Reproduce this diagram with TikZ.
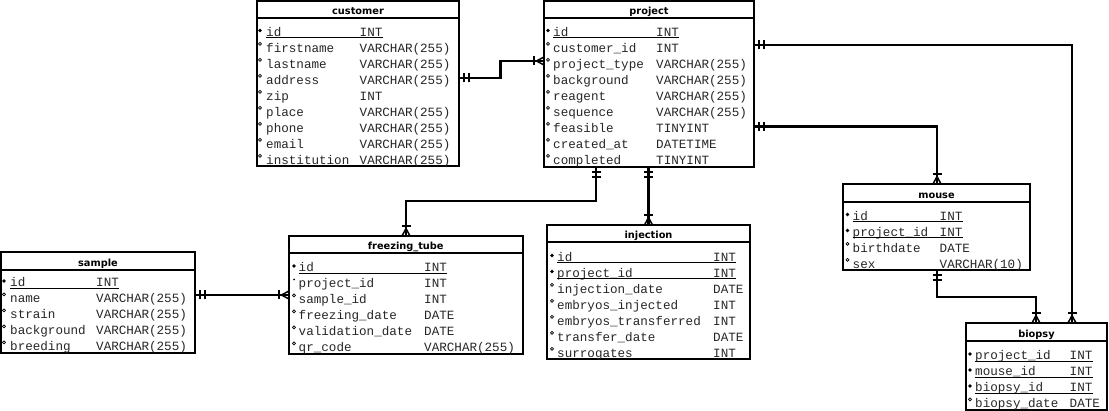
\documentclass[tikz,border=0pt]{standalone}
\usepackage{fontspec}
\setmainfont{DejaVu Sans}
\newfontfamily\monofam{Liberation Mono}
\newfontfamily\ttlfam{DejaVu Sans}
\tikzset{
 tbl/.style={draw, line width=2pt, inner sep=0pt, outer sep=0pt, anchor=north west},
 ttl/.style={font=\ttlfam\bfseries\fontsize{9.8}{10}\selectfont, anchor=base, inner sep=0pt},
 rtxt/.style={font=\monofam\fontsize{12.6}{13}\selectfont, anchor=base west, inner sep=0pt, text=black!85},
 sepline/.style={line width=2pt},
 conn/.style={line width=2.5pt},
 mk/.style={line width=2pt},
 footln/.style={line width=1.5pt},
 uline/.style={line width=0.9pt}
}
% table box: #1 name, #2 x1, #3 y1, #4 x2, #5 y2, #6 separator y, #7 title
\newcommand\tablebox[7]{%
 \node[tbl, minimum width={#4-#2}, minimum height={#5-#3}] (#1) at (#2,#3) {};
 \draw[sepline] (#2,#6) -- (#4,#6);
 \node[ttl] (#1T) at ({(#2+#4)/2},#6-3.7) {#7};}
% rows: #1 id, #2 marker x, #3 name x, #4 type x, #5 baseline, #6 name, #7 type
\newcommand\pkrow[7]{%
 \node[rtxt] (#1n) at (#3,#5+1.5) {#6};
 \node[rtxt] (#1t) at (#4,#5+1.5) {#7};
 \fill (#2,#5-4.5) +(-1.8,0) -- +(0,-1.8) -- +(1.8,0) -- +(0,1.8) -- cycle;
 \draw[uline] ([yshift=-1.3pt]#1n.base west) -- ([yshift=-1.3pt]#1t.base east);}
\newcommand\nrow[7]{%
 \node[rtxt] (#1n) at (#3,#5+1.5) {#6};
 \node[rtxt] (#1t) at (#4,#5+1.5) {#7};
 \draw[line width=0.7pt] (#2,#5-7.2) circle (1.5pt);}
\newcommand\drow[7]{%
 \node[rtxt] (#1n) at (#3,#5+1.5) {#6};
 \node[rtxt] (#1t) at (#4,#5+1.5) {#7};
 \fill (#2,#5-7) circle (1pt);}
% connector end markers: #1 coordinate, #2 outward angle
\newcommand\onemk[2]{\begin{scope}[shift={(#1)},rotate=#2,x=1pt,y=1pt]
 \draw[mk] (5,-4.5)--(5,4.5) (9.7,-4.5)--(9.7,4.5);\end{scope}}
\newcommand\manymk[2]{\begin{scope}[shift={(#1)},rotate=#2,x=1pt,y=1pt]
 \draw[mk] (10,-4.5)--(10,4.5);
 \draw[footln] (7.5,0)--(0,4) (7.5,0)--(0,-4);\end{scope}}
\begin{document}
\begin{tikzpicture}[x=1pt,y=-1pt]
\useasboundingbox (0,0) rectangle (1109,411);
% ---------------- customer
\tablebox{customer}{257}{1.5}{459}{166}{18}{customer}
\pkrow{cu1}{260}{266}{359.5}{35}{id}{INT}
\nrow{cu2}{260}{266}{359.5}{51}{firstname}{VARCHAR(255)}
\nrow{cu3}{260}{266}{359.5}{67}{lastname}{VARCHAR(255)}
\nrow{cu4}{260}{266}{359.5}{83}{address}{VARCHAR(255)}
\nrow{cu5}{260}{266}{359.5}{99}{zip}{INT}
\nrow{cu6}{260}{266}{359.5}{115}{place}{VARCHAR(255)}
\nrow{cu7}{260}{266}{359.5}{131}{phone}{VARCHAR(255)}
\nrow{cu8}{260}{266}{359.5}{147}{email}{VARCHAR(255)}
\nrow{cu9}{260}{266}{359.5}{163}{institution}{VARCHAR(255)}
% ---------------- project
\tablebox{project}{544}{1.5}{754}{167}{18}{project}
\pkrow{pr1}{548}{553}{656}{35}{id}{INT}
\nrow{pr2}{548}{553}{656}{51}{customer\_id}{INT}
\nrow{pr3}{548}{553}{656}{67}{project\_type}{VARCHAR(255)}
\nrow{pr4}{548}{553}{656}{83}{background}{VARCHAR(255)}
\nrow{pr5}{548}{553}{656}{99}{reagent}{VARCHAR(255)}
\nrow{pr6}{548}{553}{656}{115}{sequence}{VARCHAR(255)}
\nrow{pr7}{548}{553}{656}{131}{feasible}{TINYINT}
\nrow{pr8}{548}{553}{656}{147}{created\_at}{DATETIME}
\nrow{pr9}{548}{553}{656}{163}{completed}{TINYINT}
% ---------------- sample
\tablebox{sample}{1}{252}{195}{353}{270}{sample}
\pkrow{sa1}{4}{10}{96}{285.5}{id}{INT}
\nrow{sa2}{4}{10}{96}{301.5}{name}{VARCHAR(255)}
\nrow{sa3}{4}{10}{96}{317.5}{strain}{VARCHAR(255)}
\nrow{sa4}{4}{10}{96}{333.5}{background}{VARCHAR(255)}
\nrow{sa5}{4}{10}{96}{349.5}{breeding}{VARCHAR(255)}
% ---------------- freezing_tube
\tablebox{freezing}{289}{236}{522.5}{354}{253.5}{freezing\_tube}
\pkrow{fr1}{294}{298.5}{424}{270.5}{id}{INT}
\drow{fr2}{294}{298.5}{424}{286.5}{project\_id}{INT}
\nrow{fr3}{294}{298.5}{424}{302.5}{sample\_id}{INT}
\nrow{fr4}{294}{298.5}{424}{318.5}{freezing\_date}{DATE}
\nrow{fr5}{294}{298.5}{424}{334.5}{validation\_date}{DATE}
\nrow{fr6}{294}{298.5}{424}{350.5}{qr\_code}{VARCHAR(255)}
% ---------------- injection
\tablebox{injection}{547}{225}{750}{359}{242.5}{injection}
\pkrow{in1}{552}{557}{713}{260}{id}{INT}
\pkrow{in2}{552}{557}{713}{276}{project\_id}{INT}
\nrow{in3}{552}{557}{713}{292}{injection\_date}{DATE}
\nrow{in4}{552}{557}{713}{308}{embryos\_injected}{INT}
\nrow{in5}{552}{557}{713}{324}{embryos\_transferred}{INT}
\nrow{in6}{552}{557}{713}{340}{transfer\_date}{DATE}
\nrow{in7}{552}{557}{713}{356}{surrogates}{INT}
% ---------------- mouse
\tablebox{mouse}{843}{184}{1030}{270}{202}{mouse}
\pkrow{mo1}{847.5}{852.5}{939.5}{219}{id}{INT}
\pkrow{mo2}{847.5}{852.5}{939.5}{235}{project\_id}{INT}
\nrow{mo3}{847.5}{852.5}{939.5}{251}{birthdate}{DATE}
\nrow{mo4}{847.5}{852.5}{939.5}{267}{sex}{VARCHAR(10)}
% ---------------- biopsy
\tablebox{biopsy}{966}{323}{1107}{410.5}{341.5}{biopsy}
\pkrow{bi1}{970}{975}{1069.5}{358.5}{project\_id}{INT}
\pkrow{bi2}{970}{975}{1069.5}{374.5}{mouse\_id}{INT}
\pkrow{bi3}{970}{975}{1069.5}{390.5}{biopsy\_id}{INT}
\nrow{bi4}{970}{975}{1069.5}{406.5}{biopsy\_date}{DATE}
% ---------------- connectors
% customer -> project
\draw[conn] (customer.north east) ++(0,76.5) coordinate (c1a) -- ++(41.5,0) |- ([yshift=-59.5pt]project.north west) coordinate (c1b);
\onemk{c1a}{0}\manymk{c1b}{180}
% project -> biopsy
\draw[conn] ([yshift=-43.5pt]project.north east) coordinate (c2a) -| ([xshift=106pt]biopsy.north west) coordinate (c2b);
\onemk{c2a}{0}\manymk{c2b}{90}
% project -> mouse
\draw[conn] ([yshift=-125pt]project.north east) coordinate (c3a) -| ([xshift=94pt]mouse.north west) coordinate (c3b);
\onemk{c3a}{0}\manymk{c3b}{90}
% mouse -> biopsy
\draw[conn] ([xshift=94pt]mouse.south west) coordinate (c4a) -- ++(0,27) -| ([xshift=70pt]biopsy.north west) coordinate (c4b);
\onemk{c4a}{270}\manymk{c4b}{90}
% project -> freezing_tube
\draw[conn] ([xshift=52pt]project.south west) coordinate (c5a) -- ++(0,34) -| ([xshift=117pt]freezing.north west) coordinate (c5b);
\onemk{c5a}{270}\manymk{c5b}{90}
% project -> injection
\draw[conn] ([xshift=104.5pt]project.south west) coordinate (c6a) -- ([xshift=101.5pt]injection.north west) coordinate (c6b);
\onemk{c6a}{270}\manymk{c6b}{90}
% sample -> freezing_tube
\draw[conn] (sample.north east) ++(0,43) coordinate (c7a) -- (c7a -| freezing.west) coordinate (c7b);
\onemk{c7a}{0}\manymk{c7b}{180}
\end{tikzpicture}
\end{document}
